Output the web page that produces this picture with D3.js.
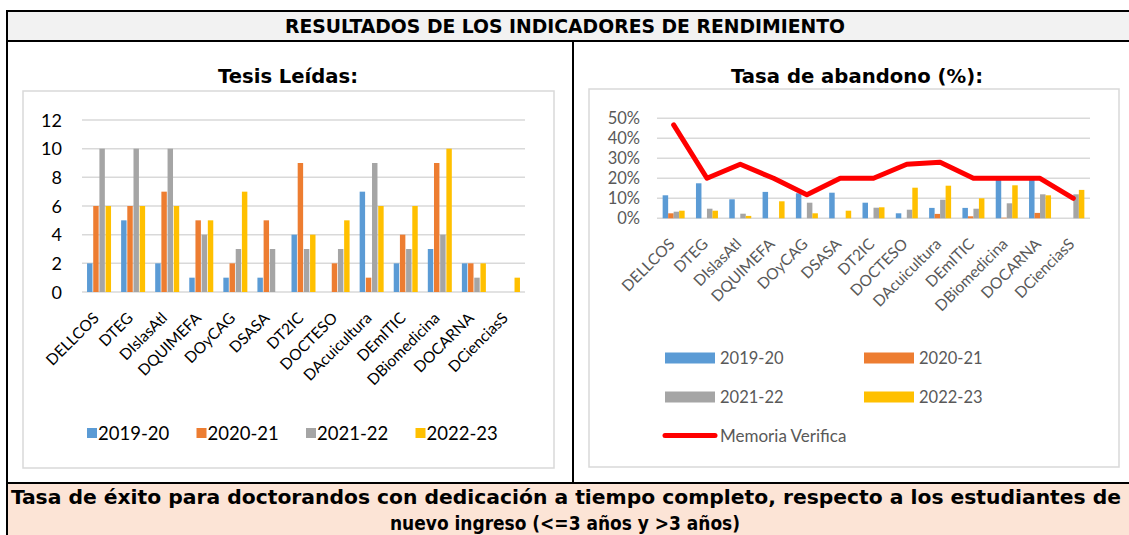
<!DOCTYPE html>
<html>
<meta charset="utf-8"/>
<head>
  <title>Resultados de los indicadores de rendimiento</title>
  <script src="https://d3js.org/d3.v7.min.js"></script>
  <style>
    body { margin: 0; background: #fff; }
    svg { display: block; }
  </style>
</head>
<body>
<script>
  // categories (programas de doctorado)
  var programas = ['DELLCOS','DTEG','DIslasAtl','DQUIMEFA','DOyCAG','DSASA','DT2IC',
                   'DOCTESO','DAcuicultura','DEmITIC','DBiomedicina','DOCARNA','DCienciasS'];
  var cursos = ['2019-20','2020-21','2021-22','2022-23'];
  var colores = ['#5b9bd5','#ed7d31','#a5a5a5','#ffc000'];

  // Tesis Leidas
  var tesis1920 = [2,5,2,1,1,1,4,0,7,2,3,2,0];
  var tesis2021 = [6,6,7,5,2,5,9,2,1,4,9,2,0];
  var tesis2122 = [10,10,10,4,3,3,3,3,9,3,4,1,0];
  var tesis2223 = [6,6,6,5,7,0,4,5,6,6,10,2,1];
  var tesisTicks = [0,2,4,6,8,10,12];

  // Tasa de abandono (%)
  var aband1920 = [11.5,17.5,9.5,13.2,12.5,12.8,7.8,2.5,5.2,5.2,20,20,0];
  var aband2021 = [2.5,0,0,0,0,0,0,0,2.2,1,0.3,2.7,0];
  var aband2122 = [3.3,4.8,2.3,0,7.8,0,5.3,4.3,9.3,4.8,7.5,12,12];
  var aband2223 = [3.8,3.8,1.2,8.5,2.5,3.8,5.5,15.3,16.3,10,16.5,11.5,14.2];
  var memoriaVerifica = [46.7,20,27,20,11.8,20,20,27,28,20,20,20,10];
  var abandTicks = [0,10,20,30,40,50];

  var W = 1129, H = 535;
  var svg = d3.select('body').append('svg').attr('width', W).attr('height', H);

  var condensed = '"DejaVu Sans Condensed", "DejaVu Sans", sans-serif';
  var calibri = 'Lato, "Open Sans", sans-serif';

  //////// TABLE FRAME
  svg.append('rect').attr('x', 7).attr('y', 11).attr('width', W).attr('height', 30).attr('fill', '#f2f2f2');
  svg.append('rect').attr('x', 7).attr('y', 483).attr('width', W).attr('height', 60).attr('fill', '#fce4d6');
  var frame = svg.append('g').attr('stroke', '#000').attr('stroke-width', 2);
  frame.append('line').attr('x1', 7).attr('x2', W).attr('y1', 11).attr('y2', 11);
  frame.append('line').attr('x1', 7).attr('x2', W).attr('y1', 41).attr('y2', 41);
  frame.append('line').attr('x1', 7).attr('x2', W).attr('y1', 483).attr('y2', 483);
  frame.append('line').attr('x1', 7).attr('x2', 7).attr('y1', 10).attr('y2', H);
  frame.append('line').attr('x1', 573).attr('x2', 573).attr('y1', 41).attr('y2', 483);

  svg.append('text').attr('x', 565).attr('y', 33).attr('text-anchor', 'middle')
    .attr('font-family', condensed).attr('font-weight', 'bold').attr('font-size', 19)
    .attr('textLength', 560).attr('lengthAdjust', 'spacingAndGlyphs')
    .text('RESULTADOS DE LOS INDICADORES DE RENDIMIENTO');

  svg.append('text').attr('x', 566).attr('y', 504).attr('text-anchor', 'middle')
    .attr('font-family', condensed).attr('font-weight', 'bold').attr('font-size', 19)
    .attr('textLength', 1110).attr('lengthAdjust', 'spacingAndGlyphs')
    .text('Tasa de éxito para doctorandos con dedicación a tiempo completo, respecto a los estudiantes de');
  svg.append('text').attr('x', 565).attr('y', 530).attr('text-anchor', 'middle')
    .attr('font-family', condensed).attr('font-weight', 'bold').attr('font-size', 19)
    .attr('textLength', 350).attr('lengthAdjust', 'spacingAndGlyphs')
    .text('nuevo ingreso (<=3 años y >3 años)');

  // chart titles
  svg.append('text').attr('x', 288).attr('y', 83).attr('text-anchor', 'middle')
    .attr('font-family', '"DejaVu Sans", sans-serif').attr('font-weight', 'bold').attr('font-size', 19)
    .attr('textLength', 140).attr('lengthAdjust', 'spacingAndGlyphs')
    .text('Tesis Leídas:');
  svg.append('text').attr('x', 857).attr('y', 83).attr('text-anchor', 'middle')
    .attr('font-family', '"DejaVu Sans", sans-serif').attr('font-weight', 'bold').attr('font-size', 19)
    .attr('textLength', 252).attr('lengthAdjust', 'spacingAndGlyphs')
    .text('Tasa de abandono (%):');

  // chart panels
  svg.append('rect').attr('x', 23).attr('y', 91).attr('width', 531).attr('height', 377)
    .attr('fill', 'none').attr('stroke', '#d9d9d9').attr('stroke-width', 1.5);
  svg.append('rect').attr('x', 589).attr('y', 89).attr('width', 530).attr('height', 378)
    .attr('fill', 'none').attr('stroke', '#d9d9d9').attr('stroke-width', 1.5);

  //////// LEFT CHART: TESIS LEIDAS
  var tesisSeries = [tesis1920, tesis2021, tesis2122, tesis2223];
  var xL = d3.scaleBand().domain(programas).range([82, 525]);
  var yL = d3.scaleLinear().domain([0, 12]).range([292, 120]);
  var subL = d3.scaleBand().domain(d3.range(4)).range([0, 24]).paddingInner(0.12);
  var offL = (xL.bandwidth() - 24) / 2;

  var gL = svg.append('g');
  gL.selectAll('line.grid').data(tesisTicks).enter().append('line')
    .attr('x1', 82).attr('x2', 525)
    .attr('y1', function(d){ return yL(d); }).attr('y2', function(d){ return yL(d); })
    .attr('stroke', '#d9d9d9').attr('stroke-width', 1.5);
  gL.selectAll('text.tick').data(tesisTicks).enter().append('text')
    .attr('x', 62).attr('y', function(d){ return yL(d) + 6.5; })
    .attr('text-anchor', 'end').attr('font-family', calibri).attr('font-size', 18).attr('fill', '#000')
    .text(function(d){ return d; });

  tesisSeries.forEach(function(serie, s) {
    gL.selectAll('rect.s' + s).data(serie).enter().append('rect')
      .attr('x', function(d, i){ return xL(programas[i]) + offL + subL(s); })
      .attr('width', subL.bandwidth())
      .attr('y', function(d){ return yL(d); })
      .attr('height', function(d){ return yL(0) - yL(d); })
      .attr('fill', colores[s]);
  });

  gL.selectAll('text.cat').data(programas).enter().append('text')
    .attr('transform', function(d){ return 'translate(' + (xL(d) + xL.bandwidth() / 2 + 1) + ',' + 319 + ') rotate(-45)'; })
    .attr('text-anchor', 'end').attr('font-family', calibri).attr('font-size', 15.5).attr('fill', '#000')
    .text(function(d){ return d; });

  // legend
  var legL = gL.selectAll('g.leg').data(cursos).enter().append('g')
    .attr('transform', function(d, i){ return 'translate(' + (87 + i * 109.5) + ',433)'; });
  legL.append('rect').attr('x', 0).attr('y', -5).attr('width', 10).attr('height', 10)
    .attr('fill', function(d, i){ return colores[i]; });
  legL.append('text').attr('x', 11).attr('y', 6.5).attr('font-family', calibri).attr('font-size', 18.5)
    .attr('fill', '#000').text(function(d){ return d; });

  //////// RIGHT CHART: TASA DE ABANDONO
  var abandSeries = [aband1920, aband2021, aband2122, aband2223];
  var xR = d3.scaleBand().domain(programas).range([657, 1090]);
  var yR = d3.scaleLinear().domain([0, 50]).range([218.3, 118.3]);
  var subR = d3.scaleBand().domain(d3.range(4)).range([0, 22]);
  var offR = (xR.bandwidth() - 22) / 2;
  var grey = '#595959';

  var gR = svg.append('g');
  gR.selectAll('line.grid').data(abandTicks).enter().append('line')
    .attr('x1', 657).attr('x2', 1090)
    .attr('y1', function(d){ return yR(d); }).attr('y2', function(d){ return yR(d); })
    .attr('stroke', '#d9d9d9').attr('stroke-width', 1.5);
  gR.selectAll('text.tick').data(abandTicks).enter().append('text')
    .attr('x', 640).attr('y', function(d){ return yR(d) + 6; })
    .attr('text-anchor', 'end').attr('font-family', calibri).attr('font-size', 16.5).attr('fill', grey)
    .text(function(d){ return d + '%'; });

  abandSeries.forEach(function(serie, s) {
    gR.selectAll('rect.s' + s).data(serie).enter().append('rect')
      .attr('x', function(d, i){ return xR(programas[i]) + offR + subR(s); })
      .attr('width', subR.bandwidth())
      .attr('y', function(d){ return yR(d); })
      .attr('height', function(d){ return yR(0) - yR(d); })
      .attr('fill', colores[s]);
  });

  var linea = d3.line()
    .x(function(d, i){ return xR(programas[i]) + xR.bandwidth() / 2; })
    .y(function(d){ return yR(d); });
  gR.append('path').datum(memoriaVerifica).attr('d', linea)
    .attr('fill', 'none').attr('stroke', '#ff0000').attr('stroke-width', 5)
    .attr('stroke-linejoin', 'round').attr('stroke-linecap', 'round');

  gR.selectAll('text.cat').data(programas).enter().append('text')
    .attr('transform', function(d){ return 'translate(' + (xR(d) + xR.bandwidth() / 2 + 2) + ',' + 245 + ') rotate(-45)'; })
    .attr('text-anchor', 'end').attr('font-family', calibri).attr('font-size', 15.5).attr('fill', grey)
    .text(function(d){ return d; });

  // legend
  var legR = gR.selectAll('g.leg').data(cursos).enter().append('g')
    .attr('transform', function(d, i){ return 'translate(' + (665 + (i % 2) * 199) + ',' + (358 + Math.floor(i / 2) * 39) + ')'; });
  legR.append('rect').attr('x', 0).attr('y', -5.5).attr('width', 50).attr('height', 11)
    .attr('fill', function(d, i){ return colores[i]; });
  legR.append('text').attr('x', 55).attr('y', 6).attr('font-family', calibri).attr('font-size', 16.5)
    .attr('fill', grey).text(function(d){ return d; });
  var legLine = gR.append('g').attr('transform', 'translate(665,435.5)');
  legLine.append('line').attr('x1', 0).attr('x2', 50).attr('y1', 0).attr('y2', 0)
    .attr('stroke', '#ff0000').attr('stroke-width', 5).attr('stroke-linecap', 'round');
  legLine.append('text').attr('x', 55).attr('y', 6).attr('font-family', calibri).attr('font-size', 17)
    .attr('fill', grey).text('Memoria Verifica');
</script>
</body>
</html>
